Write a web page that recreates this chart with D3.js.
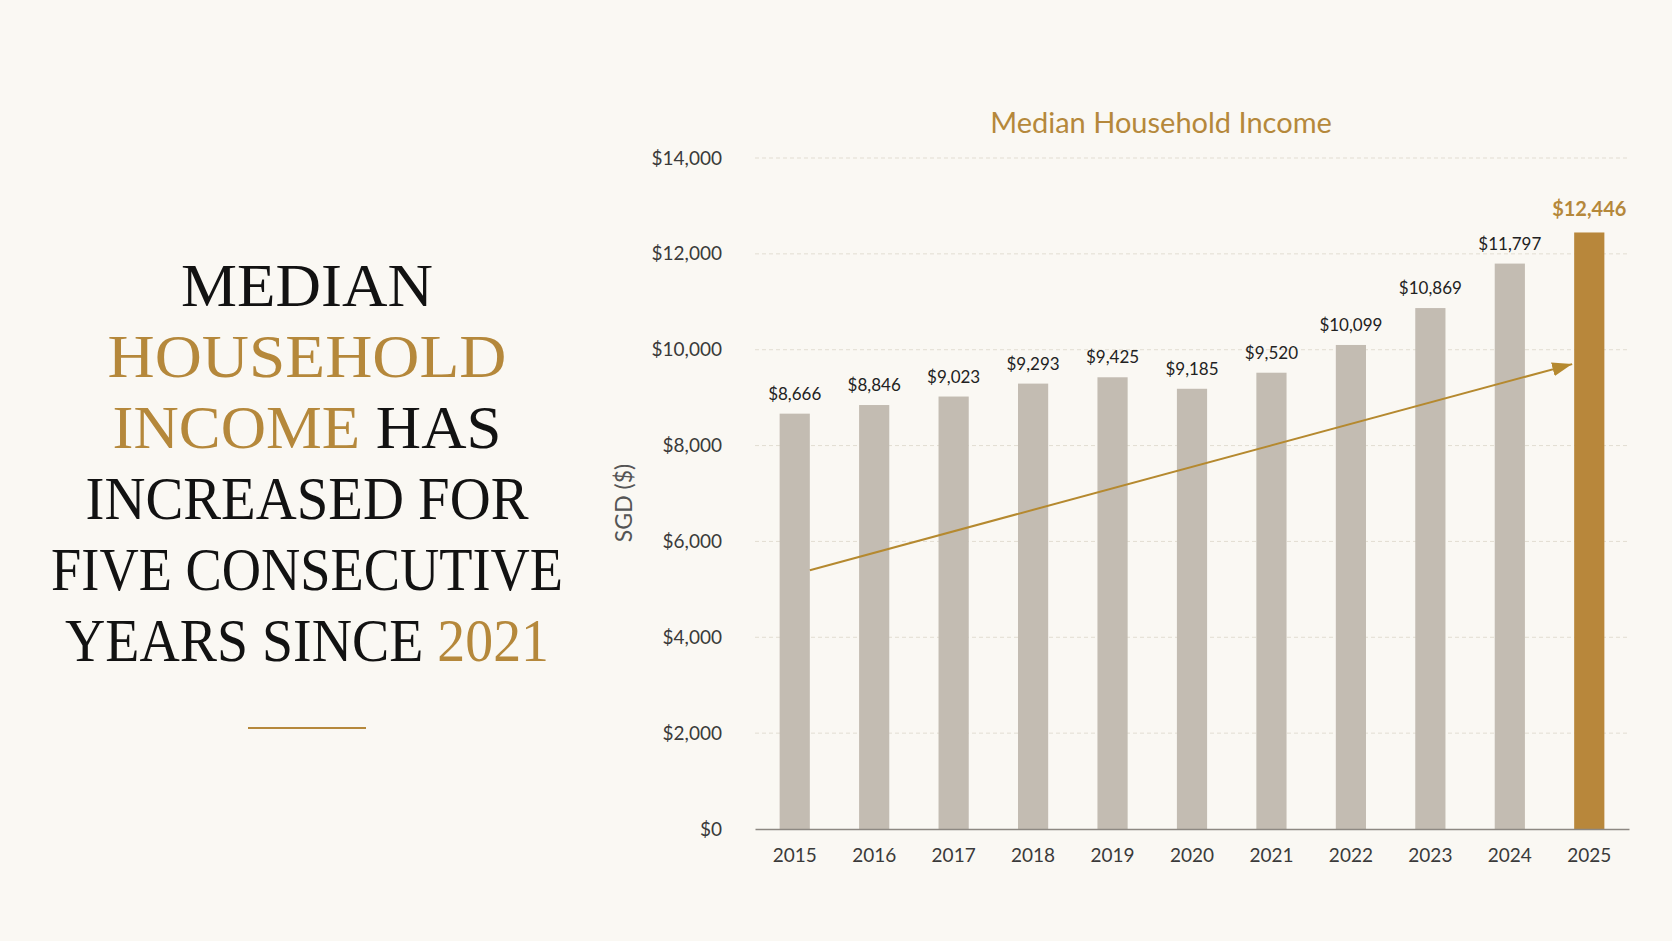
<!DOCTYPE html>
<html lang="en">
<head>
  <meta charset="UTF-8">
  <title>Median Household Income</title>
  <script src="https://d3js.org/d3.v7.min.js"></script>
  <style>
    body {
      margin: 0;
      padding: 0;
      background-color: #faf8f3;
    }
    svg {
      display: block;
    }
    .headline {
      font-family: 'Liberation Serif', 'DejaVu Serif', serif;
      font-size: 62px;
      fill: #121212;
    }
    .gold {
      fill: #b5883b;
    }
    .chart-title {
      font-family: 'Lato', sans-serif;
      font-size: 29px;
      fill: #b5883b;
    }
    .tick-label {
      font-family: 'Lato', sans-serif;
      font-size: 19px;
      fill: #3a3a3a;
    }
    .value-label {
      font-family: 'Lato', sans-serif;
      font-size: 17px;
      fill: #222;
    }
    .axis-title {
      font-family: 'Lato', sans-serif;
      font-size: 23px;
      fill: #555;
    }
  </style>
</head>
<body>
  <div id="chart"></div>

  <script>
    // Data
    const years = ["2015", "2016", "2017", "2018", "2019", "2020", "2021", "2022", "2023", "2024", "2025"];
    const incomes = [8666, 8846, 9023, 9293, 9425, 9185, 9520, 10099, 10869, 11797, 12446];
    const yTicks = [0, 2000, 4000, 6000, 8000, 10000, 12000, 14000];
    // trend arrow, start/end values in SGD
    const trendValues = [5400, 9700];

    // Headline lines: [text, isGold] pieces
    const headline = [
      [["MEDIAN", false]],
      [["HOUSEHOLD", true]],
      [["INCOME", true], [" HAS", false]],
      [["INCREASED FOR", false]],
      [["FIVE CONSECUTIVE", false]],
      [["YEARS SINCE ", false], ["2021", true]]
    ];
    const headlineWidths = [252, 399, 389, 443, 512, 484];

    const W = 1672, H = 941;
    const gold = "#b5883b";

    const svg = d3.select("#chart")
      .append("svg")
      .attr("width", W)
      .attr("height", H);

    svg.append("rect")
      .attr("width", W)
      .attr("height", H)
      .attr("fill", "#faf8f3");

    // ---- Left headline (each line squeezed to the reference width) ----
    const hx = 307, hy0 = 306, lineH = 71;
    headline.forEach((parts, i) => {
      const t = svg.append("text")
        .attr("class", "headline")
        .attr("x", 0)
        .attr("y", 0)
        .attr("text-anchor", "middle")
        .style("white-space", "pre");
      parts.forEach(p => {
        t.append("tspan")
          .attr("class", p[1] ? "gold" : null)
          .text(p[0]);
      });
      const w = t.node().getComputedTextLength();
      const k = headlineWidths[i] / w;
      t.attr("transform", "translate(" + hx + "," + (hy0 + i * lineH) + ") scale(" + k + ",1)");
    });

    svg.append("line")
      .attr("x1", 248)
      .attr("x2", 366)
      .attr("y1", 728)
      .attr("y2", 728)
      .attr("stroke", gold)
      .attr("stroke-width", 2);

    // ---- Chart ----
    const plotLeft = 755, plotRight = 1629, plotTop = 158, plotBottom = 829;

    const x = d3.scaleBand()
      .domain(years)
      .range([plotLeft, plotRight])
      .paddingInner(0.62)
      .paddingOuter(0.31);

    const y = d3.scaleLinear()
      .domain([0, 14000])
      .range([plotBottom, plotTop]);

    svg.append("text")
      .attr("class", "chart-title")
      .attr("x", 1161)
      .attr("y", 133)
      .attr("text-anchor", "middle")
      .text("Median Household Income");

    // gridlines
    svg.append("g")
      .selectAll("line")
      .data(yTicks.filter(d => d > 0))
      .enter()
      .append("line")
      .attr("x1", plotLeft)
      .attr("x2", plotRight)
      .attr("y1", d => y(d))
      .attr("y2", d => y(d))
      .attr("stroke", "#e2ddd2")
      .attr("stroke-width", 1)
      .attr("stroke-dasharray", "4,3");

    // y axis labels
    const fmt = d3.format("$,");
    const yAxis = svg.append("g")
      .attr("transform", "translate(" + plotLeft + ",0)")
      .call(d3.axisLeft(y).tickValues(yTicks).tickFormat(fmt).tickSize(0).tickPadding(33));
    yAxis.attr("font-family", null).attr("font-size", null);
    yAxis.select(".domain").remove();
    yAxis.selectAll("text")
      .attr("class", "tick-label")
      .attr("fill", null);

    // y axis title
    svg.append("text")
      .attr("class", "axis-title")
      .attr("transform", "translate(632,503) rotate(-90)")
      .attr("text-anchor", "middle")
      .text("SGD ($)");

    // bars
    svg.append("g")
      .selectAll("rect")
      .data(years)
      .enter()
      .append("rect")
      .attr("x", d => x(d))
      .attr("y", (d, i) => y(incomes[i]))
      .attr("width", x.bandwidth())
      .attr("height", (d, i) => plotBottom - y(incomes[i]))
      .attr("fill", (d, i) => i === years.length - 1 ? "#b8873b" : "#c3bcb2");

    // value labels
    svg.append("g")
      .selectAll("text")
      .data(years)
      .enter()
      .append("text")
      .attr("class", "value-label")
      .attr("x", d => x(d) + x.bandwidth() / 2)
      .attr("y", (d, i) => y(incomes[i]) - (i === years.length - 1 ? 16 : 14))
      .attr("text-anchor", "middle")
      .style("fill", (d, i) => i === years.length - 1 ? gold : null)
      .style("font-size", (d, i) => i === years.length - 1 ? "20px" : null)
      .style("font-weight", (d, i) => i === years.length - 1 ? "bold" : null)
      .text((d, i) => fmt(incomes[i]));

    // x axis
    const xAxis = svg.append("g")
      .attr("transform", "translate(0," + plotBottom + ")")
      .call(d3.axisBottom(x).tickSize(0).tickPadding(20));
    xAxis.attr("font-family", null).attr("font-size", null);
    xAxis.select(".domain")
      .attr("stroke", "#8d8882")
      .attr("stroke-width", 1.5);
    xAxis.selectAll("text")
      .attr("class", "tick-label")
      .attr("fill", null);

    // trend arrow
    svg.append("defs")
      .append("marker")
      .attr("id", "arrow")
      .attr("viewBox", "0 0 20 14")
      .attr("refX", 20)
      .attr("refY", 7)
      .attr("markerWidth", 20)
      .attr("markerHeight", 14)
      .attr("markerUnits", "userSpaceOnUse")
      .attr("orient", "auto")
      .append("path")
      .attr("d", "M0,0 L20,7 L0,14 Z")
      .attr("fill", "#b5892f");

    svg.append("line")
      .attr("x1", x(years[0]) + x.bandwidth())
      .attr("y1", y(trendValues[0]))
      .attr("x2", x(years[years.length - 1]) - 2)
      .attr("y2", y(trendValues[1]))
      .attr("stroke", "#b5892f")
      .attr("stroke-width", 2)
      .attr("marker-end", "url(#arrow)");
  </script>
</body>
</html>
